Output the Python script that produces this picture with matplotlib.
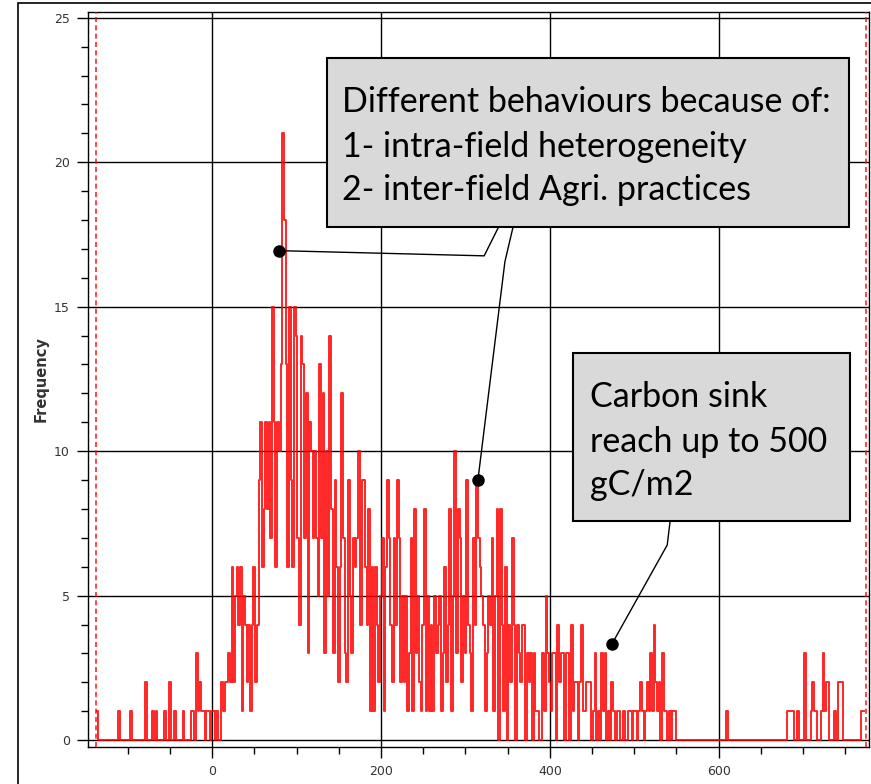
import numpy as np
import matplotlib.pyplot as plt
from matplotlib.patches import Rectangle
from matplotlib.ticker import MultipleLocator

# frequency per 2-unit bin, first bin at x = -136
bin_start = -136
bin_width = 2

# x -136 .. 16
counts_low = [1, 0, 0, 0, 0, 0, 0, 0, 0, 0, 0, 0, 0, 1, 0, 0, 0, 0, 0, 0,
              1, 0, 0, 0, 0, 0, 0, 0, 0, 2, 0, 0, 0, 1, 0, 1, 0, 0, 0, 0,
              1, 0, 0, 2, 0, 0, 1, 0, 0, 0, 0, 1, 0, 0, 0, 0, 1, 1, 0, 3,
              1, 2, 1, 1, 0, 1, 1, 0, 1, 1, 0, 1, 0, 0, 2, 1, 2]

# x 18 .. 554
counts_core = [2, 3, 2, 6, 2, 5, 6, 4, 6, 1, 5, 4, 2, 4, 1, 4, 6, 2, 4, 9,
               11, 6, 8, 11, 8, 11, 7, 15, 11, 6, 11, 10, 13, 21, 18, 13, 6, 15, 9, 6,
               15, 14, 7, 4, 14, 13, 7, 12, 3, 11, 10, 7, 10, 7, 5, 13, 7, 12, 3, 10,
               5, 14, 8, 3, 9, 6, 2, 6, 12, 7, 3, 2, 9, 5,
               3, 7, 6, 7, 10, 4, 9, 9, 6, 4, 8, 1, 6, 1, 6, 4, 2, 5, 7, 1,
               6, 9, 7, 4, 2, 7, 4, 9, 7, 2, 5, 2, 5, 1, 3, 7, 1, 8, 3, 5,
               2, 1, 4, 8, 1, 5, 1, 4, 1, 5, 3, 4, 5, 1, 3, 6, 2, 4, 8, 1,
               5, 10, 3, 8, 7, 2, 5, 3, 9, 4,
               3, 1, 7, 4, 9, 7, 6, 5, 4, 1, 3, 5, 4, 7, 1, 5, 8, 0, 8, 4,
               1, 6, 0, 4, 2, 7, 4, 0, 4, 3, 2, 4, 4, 0, 3, 2, 3, 0, 3, 1,
               1, 0, 0, 3, 1, 5, 3, 2, 1, 3, 3, 0, 4, 2, 3, 3, 0, 3, 3, 0,
               4, 1, 2, 2, 0, 2, 4, 1, 1, 2, 2,
               2, 0, 1, 3, 0, 1, 0, 3, 1, 3, 0, 1, 0, 2, 1, 0, 1, 1, 0, 0,
               1, 0, 0, 1, 1, 0, 1, 1, 0, 1, 2, 1, 0, 1, 2, 1, 3, 1, 4, 2,
               1, 2, 0, 3, 1, 1, 0, 1, 0, 1, 1, 0, 0, 0]

# x 556 .. 772
counts_high = ([0] * 27 + [1] + [0] * 35 +
               [1, 1, 1, 1, 0, 0, 1, 0, 0, 0, 3, 0, 0, 0, 1, 2, 1, 1, 0, 0,
                1, 3, 1, 2, 2, 0, 0, 0, 1, 0, 2, 2, 2, 0, 0, 0, 0, 0, 0, 0,
                0, 0, 0, 0, 1, 1])

counts = np.array(counts_low + counts_core + counts_high)
x = bin_start + bin_width * np.arange(len(counts))

range_bounds = [-138, 775]
box1_lines = ["Different behaviours because of:",
              "1- intra-field heterogeneity",
              "2- inter-field Agri. practices"]
box2_lines = ["Carbon sink", "reach up to 500", "gC/m2"]

W, H = 871, 784
fig = plt.figure(figsize=(W / 100, H / 100), dpi=100)
ax = fig.add_axes([88 / W, 1 - 747 / H, (869 - 88) / W, (747 - 12) / H])

ax.plot(x, counts, color='#ff0000', lw=1.4, alpha=0.85, drawstyle='steps-mid', zorder=3)
for b in range_bounds:
    ax.axvline(b, color='#ff0000', ls=(0, (3, 2)), lw=1.2, alpha=0.85, zorder=3)

ax.set_xlim(-147, 778)
ax.set_ylim(-0.24, 25.2)
ax.xaxis.set_major_locator(MultipleLocator(200))
ax.xaxis.set_minor_locator(MultipleLocator(50))
ax.yaxis.set_major_locator(MultipleLocator(5))
ax.yaxis.set_minor_locator(MultipleLocator(1))
ax.tick_params(which='major', direction='out', length=8, width=1, labelsize=9,
               labelcolor='#333333', pad=5)
ax.tick_params(which='minor', direction='out', length=5, width=1)
ax.set_axisbelow(True)
ax.grid(True, which='major', color='black', lw=1.0)
for s in ax.spines.values():
    s.set_linewidth(1.0)
ax.set_ylabel('Frequency', fontsize=10.5, fontweight='bold', color='#333333', labelpad=4)

# annotation boxes
ax.add_patch(Rectangle((135.7, 17.77), 754.4 - 135.7, 23.62 - 17.77,
                       facecolor='#d9d9d9', edgecolor='black', lw=1.5, zorder=5))
ax.add_patch(Rectangle((427.4, 7.59), 755.6 - 427.4, 13.40 - 7.59,
                       facecolor='#d9d9d9', edgecolor='black', lw=1.5, zorder=5))
for txt, yb in zip(box1_lines, [21.75, 20.19, 18.70]):
    ax.text(153.6, yb, txt, fontsize=24.5, family='Lato', va='baseline', zorder=6)
for txt, yb in zip(box2_lines, [11.53, 9.98, 8.49]):
    ax.text(447.7, yb, txt, fontsize=24.5, family='Lato', va='baseline', zorder=6)

# callouts
ax.plot([78.9, 322.2, 338.8], [16.94, 16.76, 17.73], color='black', lw=1.0, zorder=6)
ax.plot([356.2, 346.8, 314.8], [17.73, 16.56, 9.0], color='black', lw=1.0, zorder=6)
ax.plot([542.5, 539.0, 473.6], [7.59, 6.75, 3.33], color='black', lw=1.0, zorder=6)
ax.plot([78.9, 314.8, 473.6], [16.94, 9.0, 3.33], 'o', color='black', ms=8, zorder=7)

# outer frame
fig.patches.append(Rectangle((18 / W, -0.05), 1.0, 1 - 3 / H + 0.05, transform=fig.transFigure,
                             fill=False, edgecolor='black', lw=1.2))

fig.savefig('out.png', dpi=100)
